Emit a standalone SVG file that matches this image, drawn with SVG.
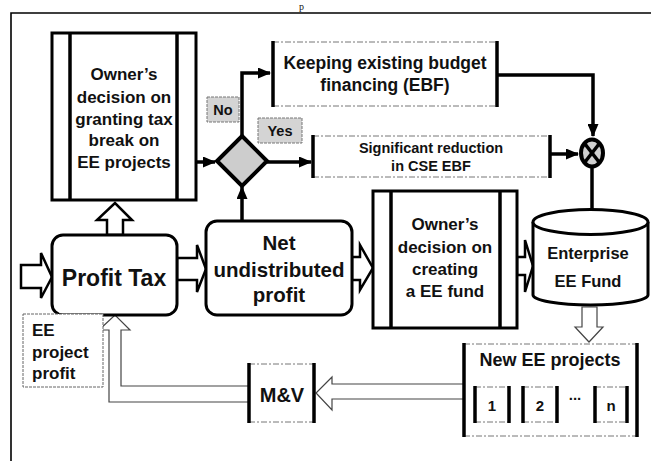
<svg xmlns="http://www.w3.org/2000/svg" width="651" height="461" viewBox="0 0 651 461">
<style>
  .t { font-family: "Liberation Sans", Arial, sans-serif; font-weight: bold; fill: #111; text-anchor: middle; }
  .tl { font-family: "Liberation Sans", Arial, sans-serif; font-weight: bold; fill: #111; text-anchor: start; }
  .box { fill: #fff; stroke: #000; stroke-width: 3; }
  .vbar { stroke: #000; stroke-width: 3.5; }
  .dash { stroke: #777; stroke-width: 1; stroke-dasharray: 6 2 2 2; fill: none; }
  .conn { fill: none; stroke: #000; stroke-width: 3.5; }
  .fat { fill: #fff; stroke: #000; stroke-width: 2.5; stroke-linejoin: miter; }
  .hollow { fill: #fff; stroke: #444; stroke-width: 1.2; }
  .lbl { fill: #d4d4d4; stroke: #777; stroke-width: 1; stroke-dasharray: 3 1; }
</style>
<defs>
  <marker id="ah" markerUnits="userSpaceOnUse" markerWidth="13" markerHeight="11" refX="12" refY="5.5" orient="auto">
    <path d="M0,0 L13,5.5 L0,11 z" fill="#000"/>
  </marker>
</defs>
<rect width="651" height="461" fill="#fff"/>
<text x="299" y="10" font-family="Liberation Serif, serif" font-size="10" fill="#111">p</text>
<path d="M11,461 V13 H651" fill="none" stroke="#000" stroke-width="1.6"/>

<g id="connectors">
  <line class="conn" x1="196" y1="162" x2="215" y2="162" marker-end="url(#ah)"/>
  <path class="conn" d="M242,137 V73 H270" marker-end="url(#ah)"/>
  <path class="conn" d="M267,162 H311" marker-end="url(#ah)"/>
  <path class="conn" d="M497,75 H593 V136" marker-end="url(#ah)"/>
  <path class="conn" d="M550,154 H578" stroke-width="3" marker-end="url(#ah)"/>
  <path class="conn" d="M592,167 V225" marker-end="url(#ah)"/>
  <path class="conn" d="M242,221 V187" marker-end="url(#ah)"/>
  <polygon class="fat" points="21,265 41,265 41,253 52,277 41,298 41,288 21,288" stroke-width="3"/>
  <polygon class="fat" points="107,235 107,220 97,220 115,203 132,220 123,220 123,235" fill="#d6d6d6" stroke-width="2"/>
  <polygon class="fat" points="177,258 197,258 197,245 206,269 197,292 197,280 177,280"/>
  <polygon class="fat" points="352,257 360,257 360,245 373,268 360,290 360,280 352,280"/>
  <polygon class="fat" points="517,257 525,257 525,240 533,266 525,292 525,275 517,275" fill="#e0e0e0"/>
  <polygon class="hollow" points="582,307 582,327 575,327 589,342 603,327 597,327 597,307"/>
  <polygon class="hollow" points="464,384 332,384 332,377 316,393 332,410 332,399 464,399"/>
  <path class="hollow" d="M249,386 H121 V330 H130 L115,315 L99,330 H109 V402 H249"/>
</g>

<g id="owner-taxbreak">
  <rect class="box" x="52" y="33" width="144" height="167"/>
  <line class="vbar" x1="70" y1="33" x2="70" y2="200" stroke-width="2.5"/>
  <line class="vbar" x1="177" y1="33" x2="177" y2="200" stroke-width="2.5"/>
  <text class="t" x="124" y="80" font-size="17">Owner’s</text>
  <text class="t" x="124" y="103" font-size="17">decision on</text>
  <text class="t" x="124" y="125" font-size="17">granting tax</text>
  <text class="t" x="124" y="146" font-size="17">break on</text>
  <text class="t" x="124" y="168" font-size="17">EE projects</text>
</g>

<g id="decision">
  <polygon points="242,136 267,161 242,186 217,161" fill="#cdcdcd" stroke="#000" stroke-width="4"/>
</g>

<g id="label-no">
  <rect class="lbl" x="207" y="97" width="32" height="25"/>
  <text class="t" x="223" y="115" font-size="14.5">No</text>
</g>
<g id="label-yes">
  <rect class="lbl" x="258" y="118" width="44" height="25"/>
  <text class="t" x="280" y="136" font-size="14.5">Yes</text>
</g>

<g id="keeping-ebf">
  <rect x="273" y="42" width="224" height="64" fill="#fff"/>
  <line class="dash" x1="273" y1="42" x2="497" y2="42"/>
  <line class="dash" x1="273" y1="106" x2="497" y2="106"/>
  <line class="vbar" x1="273" y1="41" x2="273" y2="107"/>
  <line class="vbar" x1="497" y1="41" x2="497" y2="107"/>
  <text class="t" x="385" y="69" font-size="17.5">Keeping existing budget</text>
  <text class="t" x="385" y="91" font-size="17.5">financing (EBF)</text>
</g>

<g id="reduction-ebf">
  <rect x="313" y="136" width="237" height="41" fill="#fff"/>
  <line class="dash" x1="313" y1="136" x2="550" y2="136"/>
  <line class="dash" x1="313" y1="177" x2="550" y2="177"/>
  <line class="vbar" x1="313" y1="135" x2="313" y2="178"/>
  <line class="vbar" x1="550" y1="135" x2="550" y2="178"/>
  <text class="t" x="431" y="153" font-size="14.5">Significant reduction</text>
  <text class="t" x="431" y="171" font-size="14.5">in CSE EBF</text>
</g>

<g id="combine">
  <ellipse cx="592" cy="153" rx="11" ry="13.5" fill="#d0d0d0" stroke="#000" stroke-width="4"/>
  <line x1="585" y1="144" x2="599" y2="162" stroke="#000" stroke-width="3.5"/>
  <line x1="599" y1="144" x2="585" y2="162" stroke="#000" stroke-width="3.5"/>
</g>

<g id="ee-fund">
  <path d="M533,222 V295 A57.5,10 0 0 0 648,295 V222" fill="#fff" stroke="#000" stroke-width="3"/>
  <ellipse cx="590.5" cy="222" rx="57.5" ry="12.5" fill="#fff" stroke="#000" stroke-width="3"/>
  <text class="t" x="588" y="259" font-size="16.5">Enterprise</text>
  <text class="t" x="588" y="287" font-size="16.5">EE Fund</text>
</g>

<g id="profit-tax">
  <rect class="box" x="52" y="235" width="125" height="80" rx="11"/>
  <text class="t" x="114" y="286" font-size="23">Profit Tax</text>
</g>

<g id="net-profit">
  <rect class="box" x="206" y="221" width="146" height="94" rx="11"/>
  <text class="t" x="279" y="250" font-size="20.5">Net</text>
  <text class="t" x="279" y="277" font-size="20.5">undistributed</text>
  <text class="t" x="279" y="302" font-size="20.5">profit</text>
</g>

<g id="owner-fund">
  <rect class="box" x="373" y="191" width="144" height="137"/>
  <line class="vbar" x1="391" y1="191" x2="391" y2="328" stroke-width="2.5"/>
  <line class="vbar" x1="500" y1="191" x2="500" y2="328" stroke-width="2.5"/>
  <text class="t" x="445" y="230" font-size="17">Owner’s</text>
  <text class="t" x="445" y="253" font-size="17">decision on</text>
  <text class="t" x="445" y="275" font-size="17">creating</text>
  <text class="t" x="445" y="297" font-size="17">a EE fund</text>
</g>

<g id="new-projects">
  <rect x="464" y="344" width="173" height="92" fill="#fff"/>
  <line class="dash" x1="464" y1="344" x2="637" y2="344"/>
  <line class="dash" x1="464" y1="436" x2="637" y2="436"/>
  <line class="vbar" x1="464" y1="343" x2="464" y2="437"/>
  <line class="vbar" x1="637" y1="343" x2="637" y2="437"/>
  <text class="t" x="550" y="366" font-size="18">New EE projects</text>
  <g id="project-1">
    <line class="dash" x1="475" y1="387" x2="509" y2="387"/>
    <line class="dash" x1="475" y1="422" x2="509" y2="422"/>
    <line class="vbar" x1="475" y1="386" x2="475" y2="423"/>
    <line class="vbar" x1="509" y1="386" x2="509" y2="423"/>
    <text class="t" x="492" y="411" font-size="15">1</text>
  </g>
  <g id="project-2">
    <line class="dash" x1="523" y1="387" x2="557" y2="387"/>
    <line class="dash" x1="523" y1="422" x2="557" y2="422"/>
    <line class="vbar" x1="523" y1="386" x2="523" y2="423"/>
    <line class="vbar" x1="557" y1="386" x2="557" y2="423"/>
    <text class="t" x="540" y="411" font-size="15">2</text>
  </g>
  <text class="t" x="575" y="400" font-size="15">...</text>
  <g id="project-n">
    <line class="dash" x1="595" y1="387" x2="627" y2="387"/>
    <line class="dash" x1="595" y1="422" x2="627" y2="422"/>
    <line class="vbar" x1="595" y1="386" x2="595" y2="423"/>
    <line class="vbar" x1="627" y1="386" x2="627" y2="423"/>
    <text class="t" x="611" y="411" font-size="15">n</text>
  </g>
</g>

<g id="mv">
  <rect x="249" y="364" width="65" height="58" fill="#fff"/>
  <line class="dash" x1="249" y1="364" x2="314" y2="364"/>
  <line class="dash" x1="249" y1="422" x2="314" y2="422"/>
  <line class="vbar" x1="249" y1="363" x2="249" y2="423"/>
  <line class="vbar" x1="314" y1="363" x2="314" y2="423"/>
  <text class="t" x="282" y="402" font-size="20">M&amp;V</text>
</g>

<g id="ee-profit-label">
  <rect x="23" y="314" width="80" height="73" fill="#fff" stroke="#666" stroke-width="1" stroke-dasharray="3 1"/>
  <text class="tl" x="32" y="336" font-size="17">EE</text>
  <text class="tl" x="32" y="358" font-size="17">project</text>
  <text class="tl" x="32" y="379" font-size="17">profit</text>
</g>
</svg>
